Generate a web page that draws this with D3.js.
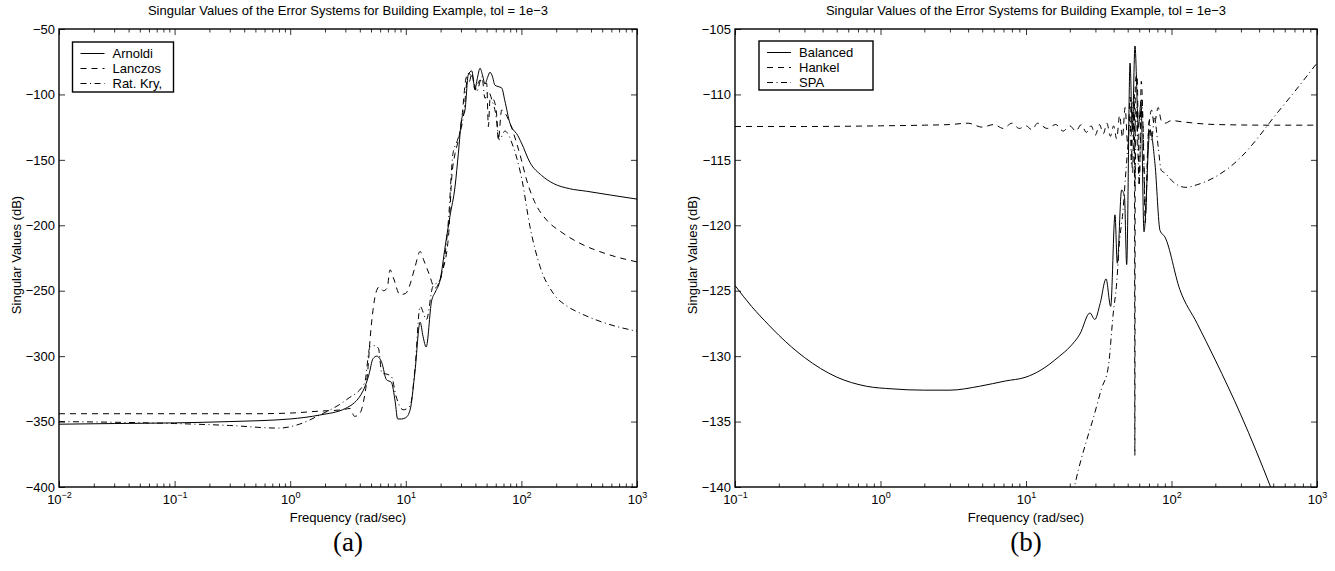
<!DOCTYPE html>
<html>
<head>
<meta charset="utf-8">
<script src="https://cdn.jsdelivr.net/npm/d3@7"></script>
<style>
  body { margin: 0; background: #fff; }
  svg text { font-family: "Liberation Sans", Arial, Helvetica, sans-serif; fill: #000; }
</style>
</head>
<body>
<svg id="fig" width="1335" height="571"></svg>
<script>
// ---- data ----
var titleText = "Singular Values of the Error Systems for Building Example, tol = 1e\u22123";
var xLabelText = "Frequency (rad/sec)";
var yLabelText = "Singular Values (dB)";

// panel (a)
var leftExponents = [-2, -1, 0, 1, 2, 3];
var leftYTicks = [-400, -350, -300, -250, -200, -150, -100, -50];
var leftLegend = ["Arnoldi", "Lanczos", "Rat. Kry,"];

var arnoldiFreq = [0.01, 0.03, 0.1, 0.3, 1, 1.8, 3, 4.3, 4.8, 5.2, 5.6, 6.2, 6.8, 7.5, 8.1, 8.5, 9.2, 10, 10.9, 12, 13.3, 14.1, 15, 16.7, 18, 19.8, 22, 24.1, 26.7, 28.5, 30.4, 32.5, 34.7, 37.2, 39.7, 41.5, 43.9, 46, 48.4, 51, 53.5, 56, 59.1, 63, 67.5, 72, 79.6, 85, 91, 100, 118.6, 150, 188.7, 260, 367, 600, 1000];
var arnoldiDb = [-352, -351.5, -351, -350, -348, -345, -340, -326, -314, -302, -300, -305, -318, -320, -335, -348, -348, -347, -341, -312, -274, -285, -293, -258, -251, -242, -215, -193, -170, -145, -119, -112, -85, -82, -96, -88, -80, -85, -92, -87, -83, -86, -93, -94, -95, -105, -122, -127, -130, -137, -152, -162, -168, -172, -174, -177, -180];

var lanczosFreq = [0.01, 0.1, 0.5, 1, 1.8, 2.8, 3.3, 3.6, 3.9, 4.3, 4.7, 4.9, 5.2, 5.5, 5.9, 6.4, 6.9, 7.3, 7.8, 8.9, 10, 10.6, 12, 13.3, 14.2, 15.8, 17.9, 20.5, 23.4, 25, 26.7, 28.5, 30.4, 33.6, 35.5, 37.2, 39.7, 43.9, 47, 50.1, 51.8, 53.5, 56, 59.1, 61, 63.1, 67.5, 73, 79.6, 91, 100, 111, 130, 165, 220, 320, 550, 1000];
var lanczosDb = [-344, -344, -344, -343.5, -342, -341, -340, -346, -345, -335, -310, -288, -265, -252, -247, -250, -248, -234, -240, -253, -252, -248, -232, -220, -226, -236.5, -248, -236.6, -208.6, -162.8, -145, -135, -119.5, -86.4, -90, -83.9, -96.6, -89, -92, -91.5, -124.6, -104, -103, -106.8, -115, -134.8, -111.9, -115, -122, -137.3, -150, -165.4, -182, -195.9, -205, -213.7, -222, -228];

var ratKryFreq = [0.01, 0.1, 0.3, 0.8, 1.2, 1.8, 3.1, 4.4, 4.9, 5.4, 5.8, 6.2, 7, 7.55, 8.2, 9.5, 10.9, 12, 13.3, 15.1, 17.1, 19.8, 23.4, 25.6, 28, 31.5, 34.7, 38.5, 41, 45.6, 48.4, 52, 55.5, 60, 64.5, 72, 85, 101, 118.6, 145, 188.7, 250, 320, 500, 1000];
var ratKryDb = [-350, -351.5, -353, -355, -352, -345, -333, -320.5, -293, -292, -294, -313, -314, -316, -330, -341, -338, -310, -262, -272, -247, -241.7, -196, -145, -135, -117, -84, -89, -98, -86.4, -103, -98, -104, -115, -134.8, -128, -140, -165, -201, -231.6, -252, -262, -267, -274, -281];

// panel (b)
var rightExponents = [-1, 0, 1, 2, 3];
var rightYTicks = [-140, -135, -130, -125, -120, -115, -110, -105];
var rightLegend = ["Balanced", "Hankel", "SPA"];

var balancedFreq = [0.1, 0.13, 0.17, 0.2, 0.3, 0.5, 0.8, 1.2, 2, 3, 4.8, 7.2, 10, 12.5, 17, 20, 23.5, 27.5, 29.7, 32.3, 35.5, 38.2, 40.9, 42.4, 45.4, 47.5, 49.2, 51.9, 53.8, 56.1, 59.2, 61.7, 64.7, 71.1, 77, 83.4, 90.2, 114, 150, 200, 300, 480, 520];
var balancedDb = [-124.6, -126.2, -127.6, -128.4, -130.1, -131.6, -132.3, -132.5, -132.6, -132.6, -132.3, -131.9, -131.6, -131.1, -130.0, -129.3, -128.3, -126.7, -127.2, -126, -124.1, -126.2, -119.2, -122.9, -117.3, -117.8, -123, -107.6, -112.7, -106.3, -112.5, -110.6, -120.5, -112.7, -115.3, -120.4, -120.9, -124.9, -127.5, -130.3, -134.5, -140, -141];

var hankelFreq = [0.1, 0.3, 1, 2, 3, 4, 5, 6, 7, 8, 9, 10, 11, 12, 14, 16, 18, 20, 22, 24, 26, 28, 30, 32, 34, 36, 38, 40, 42, 44, 46, 48, 50, 52, 54, 55.6, 56, 56.4, 58, 60, 62, 64.5, 66, 69, 73, 76, 81, 85, 90, 100, 120, 200, 500, 1000];
var hankelDb = [-112.45, -112.45, -112.4, -112.35, -112.3, -112.2, -112.5, -112.3, -112.6, -112.2, -112.6, -112.4, -112.7, -112.2, -112.6, -112.3, -112.8, -112.4, -112.8, -112.3, -112.9, -112.4, -113.1, -112.3, -113, -112.2, -113.2, -112.4, -113.4, -111.6, -113.3, -111, -113.8, -110.2, -116, -110, -137.6, -109, -108.5, -117, -109, -115, -119.8, -113.4, -111.2, -112.3, -111, -112, -112.2, -112, -112.1, -112.3, -112.35, -112.35];

var spaFreq = [21, 22.9, 26, 29, 33, 36.8, 39.8, 42, 43.8, 46.5, 48.5, 50.5, 51.9, 53, 54.5, 56, 57.5, 59.9, 62.4, 64, 66.2, 70.3, 73, 76.3, 81, 85, 90, 103, 125, 150, 200, 300, 400, 500, 700, 1000];
var spaDb = [-140.5, -138.7, -136.5, -134.75, -132.5, -130.8, -126.7, -124.4, -121.4, -118.8, -116, -113.5, -111.7, -115.3, -110.6, -117, -111, -116.8, -110.4, -113, -118.8, -112, -113.5, -111.8, -114, -115.8, -116, -116.7, -117.1, -116.9, -116.3, -114.8, -113.2, -111.8, -109.8, -107.6];

// ---- styles ----
var dashStyles = ["none", "6,5", "6,3.5,1,3.5"];
var fontSize = 13;

function zipSeries(f, v) {
  var out = [];
  for (var i = 0; i < f.length; i++) out.push([f[i], v[i]]);
  return out;
}

function drawPanel(opt) {
  var svg = d3.select("#fig");
  var g = svg.append("g").attr("class", opt.id);
  var left = opt.left, right = opt.right, top = 29, bottom = 487;

  var x = d3.scaleLog().domain([Math.pow(10, opt.exponents[0]), Math.pow(10, opt.exponents[opt.exponents.length - 1])]).range([left, right]);
  var y = d3.scaleLinear().domain([opt.yTicks[0], opt.yTicks[opt.yTicks.length - 1]]).range([bottom, top]);

  var majors = opt.exponents.map(function(e) { return Math.pow(10, e); });
  var minors = [];
  for (var i = 0; i < opt.exponents.length - 1; i++) {
    for (var k = 2; k <= 9; k++) minors.push(k * Math.pow(10, opt.exponents[i]));
  }

  // clip for curves
  g.append("clipPath").attr("id", "clip-" + opt.id)
    .append("rect").attr("x", left).attr("y", top).attr("width", right - left).attr("height", bottom - top);

  // curves
  var line = d3.line()
    .x(function(d) { return x(d[0]); })
    .y(function(d) { return y(d[1]); })
    .curve(d3.curveMonotoneX);

  var curves = g.append("g").attr("clip-path", "url(#clip-" + opt.id + ")");
  opt.series.forEach(function(s, i) {
    curves.append("path")
      .attr("d", line(s))
      .attr("fill", "none")
      .attr("stroke", "#000")
      .attr("stroke-width", 1)
      .attr("stroke-dasharray", dashStyles[i]);
  });

  // axes, matlab style inward ticks on all sides
  var tickLen = 6, minorLen = 3.5;
  g.append("g").attr("transform", "translate(0," + bottom + ")")
    .call(d3.axisBottom(x).tickValues(minors).tickSize(-minorLen).tickFormat(""));
  g.append("g").attr("transform", "translate(0," + top + ")")
    .call(d3.axisTop(x).tickValues(minors).tickSize(-minorLen).tickFormat(""));
  g.append("g").attr("transform", "translate(0," + top + ")")
    .call(d3.axisTop(x).tickValues(majors).tickSize(-tickLen).tickFormat(""));
  g.append("g").attr("transform", "translate(" + right + ",0)")
    .call(d3.axisRight(y).tickValues(opt.yTicks).tickSize(-tickLen).tickFormat(""));

  var xAxis = g.append("g").attr("class", "x-axis").attr("transform", "translate(0," + bottom + ")")
    .call(d3.axisBottom(x).tickValues(majors).tickSize(-tickLen).tickPadding(8));
  xAxis.selectAll(".tick text")
    .attr("font-size", fontSize)
    .text(null)
    .each(function(d, i) {
      var t = d3.select(this);
      t.append("tspan").text("10");
      t.append("tspan").attr("font-size", 9).attr("dy", -6)
        .text(String(opt.exponents[i]).replace("-", "\u2212"));
    });

  g.append("g").attr("transform", "translate(" + left + ",0)")
    .call(d3.axisLeft(y).tickValues(opt.yTicks).tickSize(-tickLen).tickPadding(4))
    .selectAll(".tick text").attr("font-size", fontSize);

  g.selectAll(".domain").remove();
  g.selectAll(".tick line").attr("stroke", "#000").attr("stroke-width", 0.8);

  // frame
  g.append("rect").attr("x", left).attr("y", top).attr("width", right - left).attr("height", bottom - top)
    .attr("fill", "none").attr("stroke", "#000").attr("stroke-width", 1.4);

  // titles and labels
  var cx = (left + right) / 2;
  g.append("text").attr("x", cx).attr("y", 15).attr("text-anchor", "middle")
    .attr("font-size", fontSize).text(titleText);
  g.append("text").attr("x", cx).attr("y", 522).attr("text-anchor", "middle")
    .attr("font-size", fontSize).text(xLabelText);
  g.append("text").attr("transform", "translate(" + opt.yLabelX + "," + 255 + ") rotate(-90)")
    .attr("text-anchor", "middle").attr("font-size", fontSize).text(yLabelText);
  g.append("text").attr("x", cx).attr("y", 551).attr("text-anchor", "middle")
    .style("font-family", "'Liberation Serif', 'DejaVu Serif', serif")
    .attr("font-size", 27).text(opt.tag);

  // legend
  var lg = g.append("g").attr("transform", "translate(" + opt.legend.x + "," + opt.legend.y + ")");
  lg.append("rect").attr("width", opt.legend.w).attr("height", opt.legend.h)
    .attr("fill", "#fff").attr("stroke", "#000").attr("stroke-width", 1.4);
  opt.names.forEach(function(name, i) {
    var ry = 11.5 + i * 15;
    lg.append("line").attr("x1", 8).attr("x2", 32).attr("y1", ry).attr("y2", ry)
      .attr("stroke", "#000").attr("stroke-width", 1).attr("stroke-dasharray", dashStyles[i]);
    lg.append("text").attr("x", 40).attr("y", ry + 4.5).attr("font-size", fontSize).text(name);
  });
}

drawPanel({
  id: "pa", left: 59, right: 637, yLabelX: 21, tag: "(a)",
  exponents: leftExponents, yTicks: leftYTicks, names: leftLegend,
  legend: { x: 72.5, y: 42, w: 101, h: 50 },
  series: [zipSeries(arnoldiFreq, arnoldiDb), zipSeries(lanczosFreq, lanczosDb), zipSeries(ratKryFreq, ratKryDb)]
});

drawPanel({
  id: "pb", left: 735, right: 1317, yLabelX: 697, tag: "(b)",
  exponents: rightExponents, yTicks: rightYTicks, names: rightLegend,
  legend: { x: 759, y: 41, w: 114, h: 49 },
  series: [zipSeries(balancedFreq, balancedDb), zipSeries(hankelFreq, hankelDb), zipSeries(spaFreq, spaDb)]
});
</script>
</body>
</html>
